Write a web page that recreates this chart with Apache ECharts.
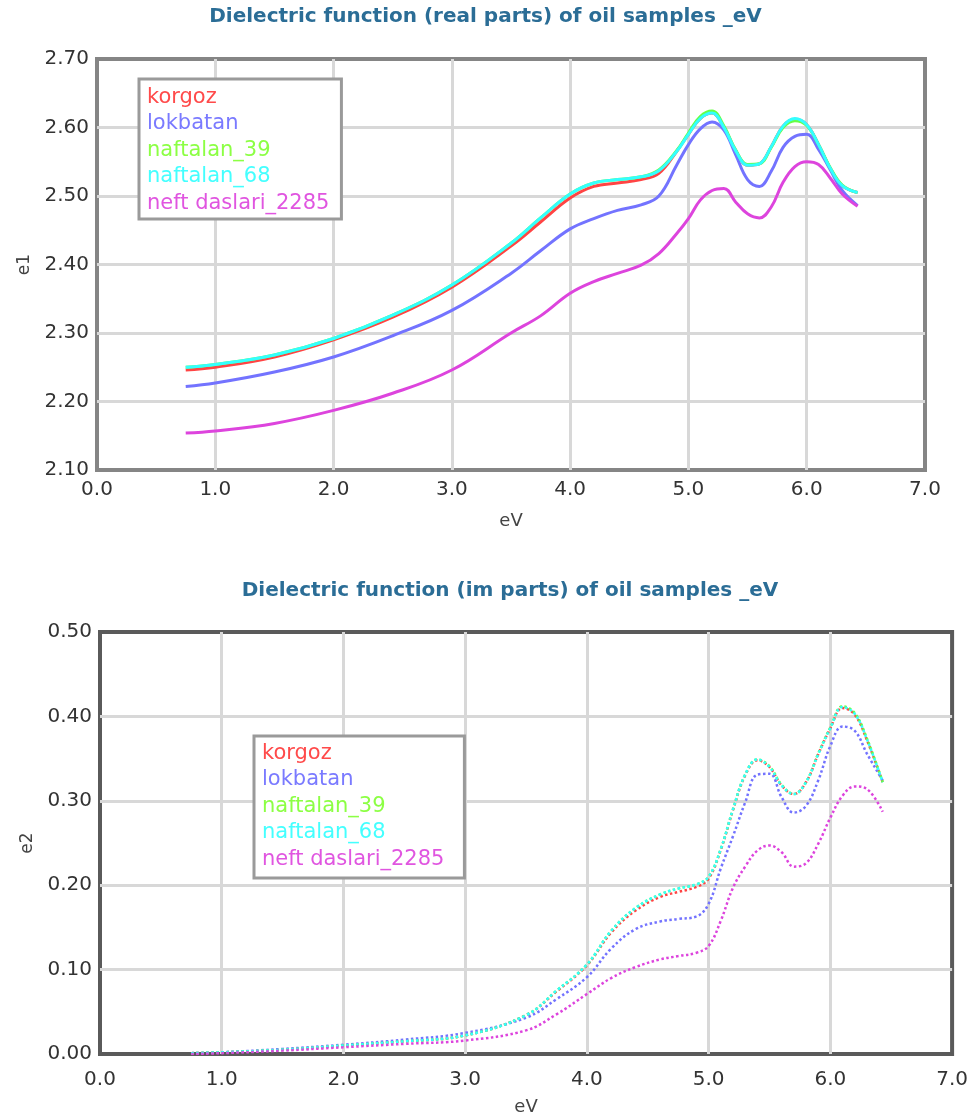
<!DOCTYPE html>
<html>
<head>
<meta charset="utf-8">
<script src="https://cdn.jsdelivr.net/npm/echarts@6/dist/echarts.min.js"></script>
<style>
	html, body { margin: 0; padding: 0; background: #fff; }
	#main { width: 971px; height: 1117px; }
</style>
</head>
<body>
<div id="main"></div>
<script>
// photon energy, eV
var xs = [0.75, 1.0, 1.5, 2.0, 2.5, 3.0, 3.5, 3.75, 4.0, 4.2, 4.4, 4.6, 4.75, 4.9, 5.0,
	5.1, 5.2, 5.3, 5.4, 5.5, 5.6, 5.7, 5.8, 5.9, 6.0, 6.1, 6.2, 6.3, 6.43];

var names = ['korgoz', 'lokbatan', 'naftalan_39', 'naftalan_68', 'neft daslari_2285'];
var colors = ['#ff4444', '#7373ff', '#66ff44', '#33ffff', '#dd44dd'];
var legendColors = ['#ff4a4a', '#7a7aff', '#8cff44', '#44ffff', '#e055e0'];

// e1 (real part)
var e1Korgoz = [2.246, 2.250, 2.265, 2.290, 2.323, 2.367, 2.427, 2.462, 2.497, 2.514, 2.519, 2.524, 2.533, 2.565, 2.590,
	2.613, 2.621, 2.600, 2.566, 2.545, 2.547, 2.572, 2.602, 2.612, 2.604, 2.575, 2.540, 2.515, 2.505];
var e1Lokbatan = [2.222, 2.227, 2.243, 2.265, 2.296, 2.333, 2.387, 2.420, 2.452, 2.467, 2.479, 2.487, 2.500, 2.545, 2.575,
	2.598, 2.608, 2.596, 2.560, 2.524, 2.514, 2.536, 2.571, 2.587, 2.590, 2.568, 2.538, 2.508, 2.486];
var e1Naftalan39 = [2.250, 2.254, 2.268, 2.292, 2.326, 2.370, 2.431, 2.468, 2.503, 2.519, 2.524, 2.528, 2.538, 2.566, 2.592,
	2.616, 2.624, 2.602, 2.567, 2.546, 2.547, 2.571, 2.600, 2.610, 2.603, 2.575, 2.541, 2.516, 2.505];
var e1Naftalan68 = [2.250, 2.254, 2.268, 2.292, 2.326, 2.370, 2.431, 2.468, 2.503, 2.519, 2.524, 2.528, 2.537, 2.565, 2.590,
	2.613, 2.621, 2.600, 2.566, 2.545, 2.547, 2.572, 2.602, 2.613, 2.604, 2.575, 2.540, 2.515, 2.505];
var e1Neft = [2.154, 2.157, 2.168, 2.187, 2.212, 2.246, 2.300, 2.325, 2.358, 2.375, 2.387, 2.399, 2.416, 2.445, 2.467,
	2.494, 2.508, 2.511, 2.491, 2.474, 2.468, 2.484, 2.520, 2.543, 2.550, 2.546, 2.526, 2.503, 2.485];

// e2 (imaginary part)
var e2Korgoz = [0.001, 0.002, 0.005, 0.010, 0.015, 0.022, 0.046, 0.074, 0.105, 0.144, 0.170, 0.186, 0.192, 0.198, 0.208,
	0.242, 0.289, 0.330, 0.348, 0.340, 0.318, 0.308, 0.322, 0.355, 0.386, 0.410, 0.402, 0.372, 0.322];
var e2Lokbatan = [0.001, 0.002, 0.006, 0.011, 0.017, 0.025, 0.043, 0.065, 0.091, 0.125, 0.148, 0.157, 0.160, 0.163, 0.178,
	0.220, 0.258, 0.298, 0.331, 0.332, 0.304, 0.286, 0.294, 0.324, 0.365, 0.388, 0.383, 0.356, 0.324];
var e2Naftalan39 = [0.001, 0.002, 0.005, 0.010, 0.015, 0.022, 0.046, 0.075, 0.106, 0.146, 0.173, 0.189, 0.196, 0.201, 0.210,
	0.243, 0.290, 0.331, 0.349, 0.341, 0.319, 0.308, 0.322, 0.356, 0.387, 0.412, 0.404, 0.374, 0.322];
var e2Naftalan68 = [0.001, 0.002, 0.005, 0.010, 0.015, 0.022, 0.046, 0.075, 0.106, 0.146, 0.173, 0.189, 0.196, 0.201, 0.210,
	0.243, 0.290, 0.331, 0.349, 0.340, 0.318, 0.308, 0.322, 0.355, 0.386, 0.411, 0.403, 0.373, 0.322];
var e2Neft = [0.000, 0.001, 0.004, 0.008, 0.012, 0.016, 0.028, 0.047, 0.071, 0.090, 0.103, 0.112, 0.116, 0.120, 0.128,
	0.158, 0.197, 0.222, 0.241, 0.247, 0.239, 0.222, 0.226, 0.249, 0.280, 0.306, 0.317, 0.314, 0.287];

var e1Data = [e1Korgoz, e1Lokbatan, e1Naftalan39, e1Naftalan68, e1Neft];
var e2Data = [e2Korgoz, e2Lokbatan, e2Naftalan39, e2Naftalan68, e2Neft];

var font = 'DejaVu Sans';

function pairs(vals) {
	var out = [];
	for (var i = 0; i < xs.length; i++) out.push([xs[i], vals[i]]);
	return out;
}

function legendData() {
	return names.map(function(n, i) {
		return { name: n, textStyle: { color: legendColors[i] } };
	});
}

// min/max split lines off so the thick grid border stays visible
var split = { showMinLine: false, showMaxLine: false, lineStyle: { color: '#d8d8d8', width: 3 } };

function xAxisOpt(idx) {
	return {
		gridIndex: idx,
		type: 'value',
		min: 0, max: 7, interval: 1,
		name: 'eV',
		nameLocation: 'middle',
		nameGap: idx === 0 ? 42 : 44,
		nameTextStyle: { color: '#444', fontFamily: font, fontSize: 18 },
		axisLine: { show: false },
		axisTick: { show: false },
		axisLabel: {
			color: '#333', fontFamily: font, fontSize: 20, margin: idx === 0 ? 10 : 16,
			formatter: function(v) { return v.toFixed(1); }
		},
		splitLine: split
	};
}

function yAxisOpt(idx, min, max, name) {
	return {
		gridIndex: idx,
		type: 'value',
		min: min, max: max, interval: 0.1,
		name: name,
		nameLocation: 'middle',
		nameGap: 62,
		nameTextStyle: { color: '#444', fontFamily: font, fontSize: 17 },
		axisLine: { show: false },
		axisTick: { show: false },
		axisLabel: {
			color: '#333', fontFamily: font, fontSize: 20, margin: 8,
			formatter: function(v) { return v.toFixed(2); }
		},
		splitLine: split
	};
}

var series = [];
names.forEach(function(n, i) {
	series.push({
		name: n, type: 'line', xAxisIndex: 0, yAxisIndex: 0,
		data: pairs(e1Data[i]), smooth: 0.4, showSymbol: false,
		lineStyle: { color: colors[i], width: 3 }, itemStyle: { color: colors[i] }
	});
});
names.forEach(function(n, i) {
	series.push({
		name: n, type: 'line', xAxisIndex: 1, yAxisIndex: 1,
		data: pairs(e2Data[i]), smooth: 0.4, showSymbol: false,
		lineStyle: { color: colors[i], width: 2.5, type: 'dotted' }, itemStyle: { color: colors[i] }
	});
});

var legendBase = {
	orient: 'vertical',
	icon: 'none',
	itemWidth: 0,
	itemHeight: 20,
	itemGap: 5.5,
	backgroundColor: '#fff',
	borderColor: '#9a9a9a',
	borderWidth: 3,
	borderRadius: 0,
	selectedMode: false,
	textStyle: { fontFamily: font, fontSize: 21 }
};

var option = {
	animation: false,
	backgroundColor: '#fff',
	title: [{
		text: 'Dielectric function (real parts) of oil samples _eV',
		left: 'center', top: 2,
		textStyle: { color: '#2b6d96', fontFamily: font, fontSize: 20, fontWeight: 'bold' }
	}, {
		text: 'Dielectric function (im parts) of oil samples _eV',
		left: 505, top: 576, textAlign: 'center',
		textStyle: { color: '#2b6d96', fontFamily: font, fontSize: 20, fontWeight: 'bold' }
	}],
	legend: [
		Object.assign({}, legendBase, { left: 139, top: 79, padding: [8, 12, 5, 3], data: legendData() }),
		Object.assign({}, legendBase, { left: 254, top: 736, padding: [7, 20, 8, 3], data: legendData() })
	],
	grid: [{
		left: 97, top: 59, width: 828, height: 411,
		show: true, borderColor: '#858585', borderWidth: 4, backgroundColor: '#fff'
	}, {
		left: 100, top: 632, width: 855, height: 425,
		show: true, borderColor: '#5a5a5a', borderWidth: 4, backgroundColor: '#fff'
	}],
	xAxis: [xAxisOpt(0), xAxisOpt(1)],
	yAxis: [yAxisOpt(0, 2.1, 2.7, 'e1'), yAxisOpt(1, 0, 0.5, 'e2')],
	series: series
};

var myChart = echarts.init(document.getElementById('main'));
myChart.setOption(option);
</script>
</body>
</html>
